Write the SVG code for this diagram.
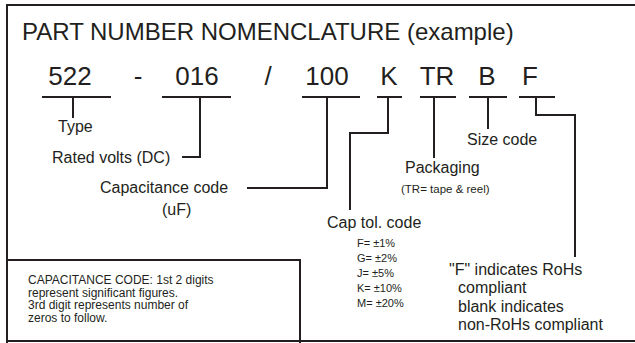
<svg xmlns="http://www.w3.org/2000/svg" width="635" height="343" viewBox="0 0 635 343">
<style>
text{font-family:"Liberation Sans",Arial,sans-serif;fill:#231f20}
.t{font-size:24px}
.pn{font-size:26px;text-anchor:middle}
.lb{font-size:16px}
.sm{font-size:11px}
.bx{font-size:12px}
.ln{stroke:#231f20;stroke-width:2;fill:none}
</style>
<rect x="0" y="0" width="635" height="343" fill="#fff"/>
<g id="frame">
<rect x="7" y="5" width="640" height="336" class="ln"/>
</g>
<g id="title"><text class="t" x="22" y="40">PART NUMBER NOMENCLATURE (example)</text></g>
<g id="partnumber">
<text class="pn" x="70" y="85">522</text>
<text class="pn" x="138" y="85">-</text>
<text class="pn" x="197" y="85">016</text>
<text class="pn" x="268" y="85">/</text>
<text class="pn" x="327" y="85">100</text>
<text class="pn" x="389" y="85">K</text>
<text class="pn" x="437" y="85">TR</text>
<text class="pn" x="487" y="85">B</text>
<text class="pn" x="530" y="85">F</text>
</g>
<g id="connectors" class="ln">
<path d="M42 97H111M162 97H231M302 97H360M377 97H402M420 97H456M469 97H507M519 97H555"/>
<path d="M73 97V118"/>
<path d="M200 97V157H182"/>
<path d="M327 97V188H247"/>
<path d="M388 97V133H350V210"/>
<path d="M434 97V158"/>
<path d="M488 97V129"/>
<path d="M536 97V115H575V257"/>
</g>
<g id="type"><text class="lb" x="58" y="132">Type</text></g>
<g id="volts"><text class="lb" x="52" y="163">Rated volts (DC)</text></g>
<g id="capcode"><text class="lb" x="100" y="193">Capacitance code</text><text class="lb" x="162" y="215">(uF)</text></g>
<g id="captol"><text class="lb" x="327" y="228">Cap tol. code</text>
<text class="sm" x="357" y="247">F= ±1%</text>
<text class="sm" x="357" y="262">G= ±2%</text>
<text class="sm" x="357" y="277">J= ±5%</text>
<text class="sm" x="357" y="292">K= ±10%</text>
<text class="sm" x="357" y="307">M= ±20%</text>
</g>
<g id="packaging"><text class="lb" x="405" y="173">Packaging</text><text x="401" y="193" style="font-size:11.5px">(TR= tape &amp; reel)</text></g>
<g id="size"><text class="lb" x="467" y="145">Size code</text></g>
<g id="rohs">
<text class="lb" x="449" y="275">"F" indicates RoHs</text>
<text class="lb" x="458" y="293">compliant</text>
<text class="lb" x="458" y="312">blank indicates</text>
<text class="lb" x="458" y="330">non-RoHs compliant</text>
</g>
<g id="note">
<rect x="7" y="260" width="293" height="90" class="ln"/>
<text class="bx" x="28" y="284">CAPACITANCE CODE: 1st 2 digits</text>
<text class="bx" x="28" y="296.5">represent significant figures.</text>
<text class="bx" x="28" y="309">3rd digit represents number of</text>
<text class="bx" x="28" y="321.5">zeros to follow.</text>
</g>
</svg>
